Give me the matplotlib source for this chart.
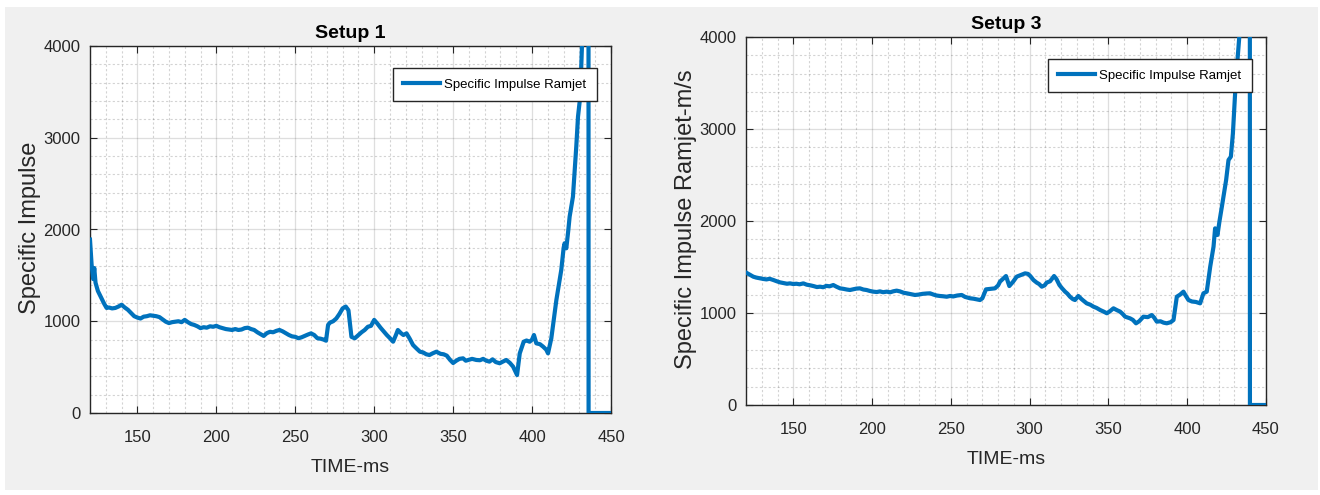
import matplotlib
matplotlib.use("Agg")
import matplotlib.pyplot as plt
from matplotlib.patches import Rectangle
from matplotlib.ticker import MultipleLocator

# ---- Setup 1: specific impulse vs time ----
time_setup1 = [
    120, 121, 122, 122.7, 123.5, 125, 127, 129, 130.5, 132, 134, 136, 138, 140,
    142, 144, 146, 148, 150, 152, 154, 156, 158, 160, 162, 164, 166, 168, 170,
    172, 174, 176, 178, 180, 182, 184, 186, 188, 190, 192, 194, 196, 198, 200,
    202, 204, 206, 208, 210, 212, 214, 216, 218, 220, 222, 224, 226, 228, 230,
    232, 234, 236, 238, 240, 242, 244, 246, 248, 250, 252, 254, 256, 258, 260,
    262, 264, 266, 268, 269.5, 270.8, 272, 274, 276, 278, 280, 282, 283.7,
    285.6, 287.7, 290, 292, 294, 296, 298, 300, 302, 304, 306, 308, 310, 312,
    314, 315, 317, 318.5, 320.5, 322.5, 324.6, 327, 329, 331, 333, 335, 337,
    339.4, 342, 344, 346, 348, 350, 352, 354, 356.3, 358, 360, 362, 364.7, 367,
    369, 371, 373, 375, 377, 379.5, 381.5, 383.7, 386, 388, 390.5, 392.2, 394.7,
    396.5, 398.5, 400, 401.2, 402.7, 405, 407, 409, 410.1, 412.2, 414.3, 415.4,
    417, 418.5, 420, 420.6, 421.7, 423, 423.8, 425.9, 428, 429.1, 430.5, 431.6,
    432.5, 435.7, 435.8, 450,
]
isp_setup1 = [
    1890, 1620, 1460, 1580, 1420, 1330, 1260, 1190, 1145, 1150, 1140, 1145, 1160, 1180,
    1150, 1125, 1090, 1055, 1040, 1030, 1050, 1055, 1065, 1060, 1055, 1045, 1020, 995, 980,
    990, 995, 1000, 990, 1015, 990, 970, 960, 945, 925, 935, 930, 945, 940, 950,
    935, 925, 915, 910, 905, 915, 905, 910, 925, 930, 915, 905, 880, 860, 840,
    870, 885, 880, 895, 905, 890, 870, 850, 835, 830, 815, 825, 840, 855, 868,
    850, 815, 810, 800, 788, 960, 985, 1000, 1030, 1080, 1140, 1160, 1120,
    830, 814, 850, 880, 905, 940, 950, 1015, 975, 930, 890, 850, 815, 777,
    860, 905, 870, 850, 868, 810, 741, 700, 668, 660, 640, 632, 650,
    668, 645, 640, 625, 580, 545, 570, 590, 596, 570, 580, 590, 578, 575,
    590, 570, 560, 585, 555, 542, 560, 578, 545, 505, 414, 650, 777,
    790, 777, 800, 850, 759, 750, 723, 690, 650, 814, 1087, 1232,
    1400, 1559, 1800, 1850, 1795, 2000, 2140, 2358, 2903, 3230, 3448, 3995,
    4600, 9000, 0, 0,
]

# ---- Setup 3: specific impulse vs time ----
time_setup3 = [
    120, 122, 124.6, 126.5, 128.9, 131, 133, 135, 137.3, 139.5, 141.6, 144, 146,
    147.9, 150, 152, 154, 156.4, 158.5, 161, 163, 165, 167, 169, 171, 173, 175.4,
    177.5, 179.7, 182, 184, 186, 188, 190, 192.3, 194.5, 196.5, 198.5, 200.8, 203,
    205, 207, 209.3, 211.5, 213.5, 215.6, 217.7, 220, 222, 224.5, 227.2, 229.5,
    232, 234.5, 236.8, 239, 241, 243, 245, 247.4, 249.5, 251.5, 254, 256.9, 259,
    262.2, 264.5, 266.5, 268.5, 270, 272.3, 275, 278, 280, 281.2, 283, 285, 287.1,
    289.5, 291.8, 294, 297.1, 299, 300.5, 302.4, 304.5, 306, 307.7, 309.5, 310.8,
    313, 315.5, 317, 318.9, 320.5, 322.5, 324, 325.6, 327.5, 328.8, 330.9, 333,
    336.2, 338.5, 340.5, 342.5, 344.7, 347, 349, 351, 353.2, 355.5, 357.4, 359,
    360.6, 363.7, 365.5, 367.5, 369.5, 372.2, 375, 377.5, 379, 380.7, 383, 385,
    387, 389.5, 391.3, 393.4, 395.5, 397.6, 399, 400.8, 403, 405.5, 408.2, 410.3,
    412.4, 414.6, 416.7, 417.7, 419.2, 420.5, 422, 424.7, 426.2, 427.7, 429, 430.4,
    431.9, 433.5, 439.7, 439.8, 450,
]
isp_setup3 = [
    1440, 1420, 1395, 1385, 1377, 1370, 1365, 1372, 1359, 1345, 1333, 1325, 1318,
    1322, 1315, 1318, 1312, 1322, 1308, 1300, 1292, 1282, 1286, 1280, 1295, 1290, 1304,
    1285, 1268, 1262, 1255, 1250, 1258, 1265, 1268, 1255, 1250, 1240, 1232, 1228,
    1235, 1226, 1232, 1225, 1236, 1243, 1235, 1220, 1214, 1205, 1196, 1200,
    1208, 1212, 1214, 1200, 1190, 1185, 1182, 1177, 1185, 1180, 1190, 1196, 1175,
    1160, 1155, 1148, 1141, 1160, 1257, 1262, 1268, 1300, 1341, 1370, 1402, 1293,
    1340, 1395, 1410, 1431, 1425, 1400, 1359, 1330, 1315, 1286, 1300, 1330,
    1345, 1402, 1370, 1304, 1270, 1232, 1210, 1177, 1150, 1141, 1185, 1150,
    1105, 1090, 1069, 1055, 1033, 1015, 997, 1020, 1051, 1030, 1015, 990,
    960, 942, 925, 888, 910, 960, 955, 978, 950, 906, 910, 895,
    888, 900, 924, 1177, 1200, 1232, 1190, 1141, 1125, 1120, 1105, 1214,
    1232, 1504, 1721, 1920, 1848, 2000, 2156, 2446, 2663, 2699, 2953, 3388,
    3750, 4100, 9000, 0, 0,
]

panels = [
    dict(time=time_setup1, isp=isp_setup1, title="Setup 1",
         ylabel="Specific Impulse", rect=[90, 46, 611, 413], ylab_x=41),
    dict(time=time_setup3, isp=isp_setup3, title="Setup 3",
         ylabel="Specific Impulse Ramjet-m/s", rect=[746, 37, 1266, 405], ylab_x=697),
]

x_ticks = [150, 200, 250, 300, 350, 400, 450]
y_ticks = [0, 1000, 2000, 3000, 4000]
legend_label = "Specific Impulse Ramjet"

W, H = 1320, 495
LINE_BLUE = "#0072BD"
DARK = "#262626"
SANS = ["Liberation Sans", "DejaVu Sans"]

fig = plt.figure(figsize=(W / 100, H / 100), dpi=100, facecolor="white")
fig.patches.append(Rectangle((5 / W, 5 / H), 1313 / W, 483 / H,
                             transform=fig.transFigure, facecolor="#f0f0f0",
                             edgecolor="none", zorder=-10))

for p in panels:
    x0, y0, x1, y1 = p["rect"]
    aw, ah = x1 - x0, y1 - y0
    ax = fig.add_axes([x0 / W, (H - y1) / H, aw / W, ah / H])
    ax.set_facecolor("white")
    ax.plot(p["time"], p["isp"], color=LINE_BLUE, lw=3.0,
            label=legend_label, solid_joinstyle="round", zorder=3)

    ax.set_xlim(120, 450)
    ax.set_ylim(0, 4000)
    ax.set_xticks(x_ticks)
    ax.set_yticks(y_ticks)
    ax.xaxis.set_minor_locator(MultipleLocator(10))
    ax.yaxis.set_minor_locator(MultipleLocator(200))

    ax.grid(which="major", color=DARK, alpha=0.15, lw=0.9, ls="-")
    ax.grid(which="minor", color=DARK, alpha=0.2, lw=0.8, ls=(0, (2, 2)))
    ax.set_axisbelow(True)

    ax.tick_params(which="major", direction="in", top=True, right=True,
                   length=5, width=0.8, color=DARK, labelcolor=DARK,
                   labelsize=12)
    ax.tick_params(which="minor", length=0)
    ax.tick_params(axis="x", pad=12)
    ax.tick_params(axis="y", pad=7)
    for lab in ax.get_xticklabels() + ax.get_yticklabels():
        lab.set_fontfamily(SANS)
    for s in ax.spines.values():
        s.set_color(DARK)
        s.set_linewidth(1.0)

    ax.set_title(p["title"], fontsize=14, fontweight="bold", family=SANS,
                 color="black", pad=6)
    ax.set_xlabel("TIME-ms", fontsize=14, family=SANS, color=DARK, labelpad=10)
    ax.set_ylabel(p["ylabel"], fontsize=17, family=SANS, color=DARK)
    ax.yaxis.set_label_coords((p["ylab_x"] - x0) / aw, 0.505)

    leg = ax.legend(loc="upper right", bbox_to_anchor=(1 - 14 / aw, 1 - 22 / ah),
                    borderaxespad=0, fancybox=False, framealpha=1,
                    edgecolor=DARK, handlelength=2.8, handletextpad=0.3,
                    borderpad=0.8, prop=dict(family=SANS, size=9.5))
    leg.get_frame().set_linewidth(1.0)
    for line in leg.get_lines():
        line.set_linewidth(3.0)

fig.savefig("out.png", dpi=100, facecolor=fig.get_facecolor())
